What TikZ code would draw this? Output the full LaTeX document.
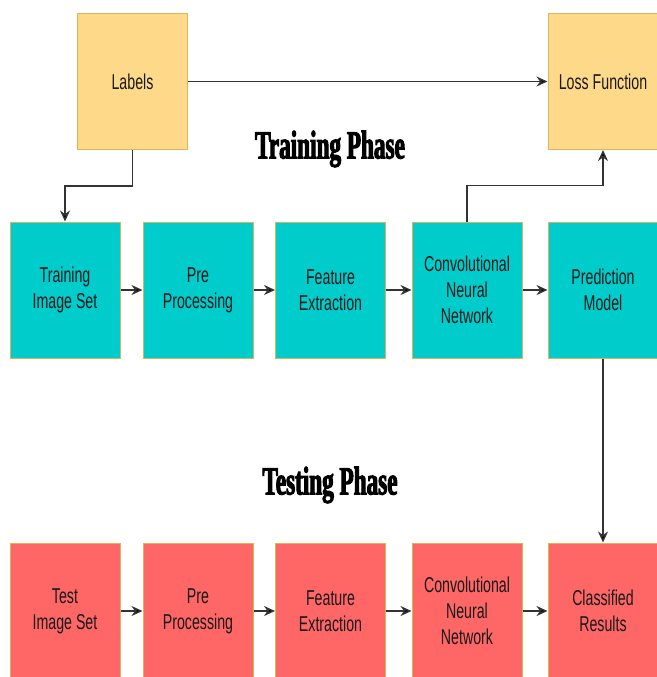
\documentclass[tikz,border=0pt]{standalone}
\usepackage{fontspec}
\setmainfont{Liberation Sans}
\newfontfamily\boxfont[FakeStretch=0.66]{Liberation Sans}
\newfontfamily\phasefont[FakeStretch=0.58,FakeBold=2.5]{Liberation Serif}
\usetikzlibrary{arrows.meta}
\definecolor{labfill}{HTML}{FFD98A}
\definecolor{trnfill}{HTML}{00CCCC}
\definecolor{tstfill}{HTML}{FF6666}
\definecolor{edge}{HTML}{D6B656}
\definecolor{wire}{HTML}{333333}
\tikzset{
  blk/.style={draw=edge, line width=1pt, minimum width=110pt, minimum height=136pt,
    inner sep=2pt, align=center, text=black!90,
    font=\boxfont\fontsize{21.5}{26}\selectfont},
  lab/.style={blk, fill=labfill},
  trn/.style={blk, fill=trnfill},
  tst/.style={blk, fill=tstfill},
  arr/.style={-{Stealth[length=11pt,width=10pt,fill=black]}, line width=1.4pt, draw=wire},
  phase/.style={font=\phasefont\bfseries\fontsize{40}{40}\selectfont}
}
\begin{document}
\begin{tikzpicture}[x=1pt, y=-1pt]
\useasboundingbox (0,0) rectangle (656,677);
%
\node[lab] (labels) at (132.5,81.5) {Labels};
\node[lab] (loss) at (603,81.5) {Loss Function};
%
\node[phase] (trainph) at (330,149) {Training Phase};
\node[phase] (testph) at (330,485) {Testing Phase};
%
\node[trn] (tr1) at (65,290) {Training\\Image Set};
\node[trn] (tr2) at (198,290) {Pre\\Processing};
\node[trn] (tr3) at (330.5,290) {Feature\\Extraction};
\node[trn] (tr4) at (467,290) {Convolutional\\Neural\\Network};
\node[trn] (tr5) at (603,290) {Prediction\\Model};
%
\node[tst] (ts1) at (65,611) {Test\\Image Set};
\node[tst] (ts2) at (198,611) {Pre\\Processing};
\node[tst] (ts3) at (330.5,611) {Feature\\Extraction};
\node[tst] (ts4) at (467,611) {Convolutional\\Neural\\Network};
\node[tst] (ts5) at (603,611) {Classified\\Results};
%
\foreach \a/\b in {tr1/tr2,tr2/tr3,tr3/tr4,tr4/tr5,ts1/ts2,ts2/ts3,ts3/ts4,ts4/ts5}
  \draw[arr] (\a) -- (\b);
%
\draw[arr] (labels) -- (loss);
\draw[arr] (labels.south) -- ++(0,36) -| (tr1.north);
\draw[arr] (tr4.north) -- ++(0,-36) -| (loss.south);
\draw[arr] (tr5) -- (ts5);
%
\end{tikzpicture}
\end{document}
